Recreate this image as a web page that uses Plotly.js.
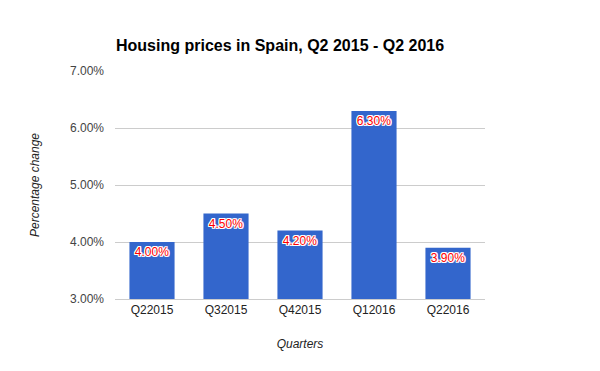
<!DOCTYPE html>
<html>
<head>
<meta charset="utf-8">
<script src="https://cdn.plot.ly/plotly-3.0.1.min.js"></script>
<style>html,body{margin:0;padding:0;background:#fff;}#chart{width:600px;height:371px;}</style>
</head>
<body>
<div id="chart"></div>
<script>
const quarters = ["Q22015", "Q32015", "Q42015", "Q12016", "Q22016"];
const priceChange = [4.0, 4.5, 4.2, 6.3, 3.9];
const yTicks = [3, 4, 5, 6, 7];
const yTickText = yTicks.map(v => v.toFixed(2) + "%");

const FONT = "Arial, 'Liberation Sans', sans-serif";

Plotly.newPlot("chart", [{
  type: "bar",
  x: quarters,
  y: priceChange,
  marker: {color: "#3366cc"},
  texttemplate: "%{y:.2f}%",
  textposition: "inside",
  insidetextanchor: "end",
  textangle: 0,
  textfont: {family: FONT, size: 12, color: "#ff0000",
    shadow: "1px 1px 0 #fff, -1px -1px 0 #fff, 1px -1px 0 #fff, -1px 1px 0 #fff, 0 1px 0 #fff, 0 -1px 0 #fff, 1px 0 0 #fff, -1px 0 0 #fff"},
  cliponaxis: true,
  hoverinfo: "x+y"
}], {
  width: 600, height: 371,
  margin: {l: 115, r: 115, t: 71, b: 72},
  paper_bgcolor: "#fff", plot_bgcolor: "#fff",
  bargap: 0.39,
  showlegend: false,
  title: {text: "<b>Housing prices in Spain, Q2 2015 - Q2 2016</b>",
    font: {family: FONT, size: 16, color: "#000"},
    x: 116/600, xanchor: "left", xref: "container", y: 1 - 45/371, yref: "container", yanchor: "middle"},
  xaxis: {type: "category", showgrid: false, showline: true, linecolor: "#cccccc", linewidth: 1,
    zeroline: false, ticks: "",
    tickfont: {family: FONT, size: 12, color: "#222"},
    title: {text: "<i>Quarters</i>", font: {family: FONT, size: 12, color: "#222"}, standoff: 23}},
  yaxis: {range: [3, 7], tickvals: yTicks, ticktext: yTickText,
    showgrid: true, gridcolor: "#cccccc", gridwidth: 1, zeroline: false, showline: false, ticks: "",
    ticklabelstandoff: 10,
    tickfont: {family: FONT, size: 12, color: "#444"},
    title: {text: "<i>Percentage change</i>", font: {family: FONT, size: 12, color: "#222"}, standoff: 27}}
}, {displayModeBar: false, staticPlot: true});
</script>
</body>
</html>
